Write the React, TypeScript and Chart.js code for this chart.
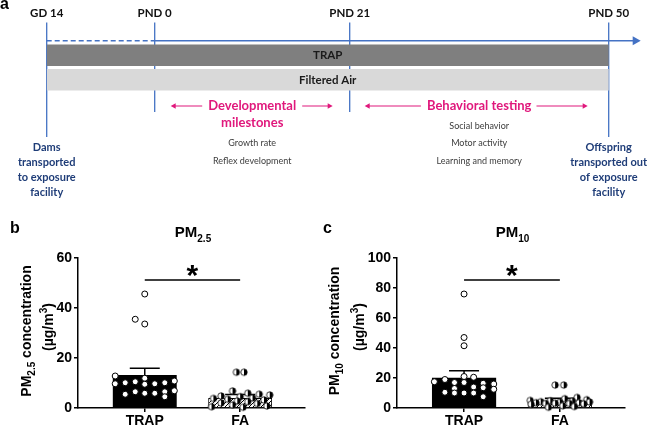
import React, { useEffect, useRef } from 'react';
import { Chart, registerables } from 'chart.js';

Chart.register(...registerables);

// ---------------- Panel a : study timeline (schematic, not to scale) ----------------
const stageLabels = ['GD 14', 'PND 0', 'PND 21', 'PND 50'];
const stageTimelinePos = [0, 108, 303, 562];
const timelineEnd = 594;
const exposureGroups = ['TRAP', 'Filtered Air'];
const devTitle = ['Developmental', 'milestones'];
const devTests = ['Growth rate', 'Reflex development'];
const behTitle = 'Behavioral testing';
const behTests = ['Social behavior', 'Motor activity', 'Learning and memory'];
const startNote = ['Dams', 'transported', 'to exposure', 'facility'];
const endNote = ['Offspring', 'transported out', 'of exposure', 'facility'];

// ---------------- Panels b, c : PM concentrations ----------------
const groups = ['TRAP', 'FA'];

const pm25Means = [13.2, 4.0];
const pm25Sem = [2.7, 1.4];
const pm25Trap = [45.6, 35.5, 33.6, 12.8, 11.9, 10.8, 10.5, 10.1, 10.1, 9.7, 9.7, 9.5, 6.9, 6.5, 6.5, 5.9, 5.9, 5.5, 4.5];
const pm25TrapJitter = [0, -0.1, 0, -0.31, 0, 0.31, -0.1, -0.205, 0.21, -0.31, 0.105, 0, 0.31, -0.1, 0.21, 0, 0.105, -0.205, 0.21];
const pm25Fa = [14.3, 14.3, 6.8, 5.9, 5.5, 5.2, 4.8, 4.5, 4.0, 3.8, 3.5, 3.2, 2.8, 2.5, 2.0, 1.8, 1.2, 0.8, 0.5, 0.3];
const pm25FaJitter = [-0.04, 0.04, -0.08, 0.08, 0.2, 0.31, -0.2, 0, 0.13, -0.28, -0.13, 0.25, -0.03, 0.08, -0.2, 0.18, -0.08, 0.28, -0.3, 0.03];
const pm25Sig = 51.2;

const pm10Means = [20.2, 5.0];
const pm10Sem = [4.7, 1.5];
const pm10Trap = [76, 47, 41.5, 21, 20.5, 19, 17.5, 17, 17, 16.5, 16, 14, 13.5, 13, 12.5, 10.5, 10, 10, 10, 7.5];
const pm10TrapJitter = [0, 0, 0, 0, 0.1, -0.2, -0.31, -0.1, 0, 0.2, 0.31, 0.1, 0.2, -0.1, 0.31, -0.2, -0.1, 0, 0.1, 0.2];
const pm10Fa = [15.3, 15.3, 7, 6.2, 5.5, 5, 4.8, 4.5, 4.2, 4, 3.8, 3.5, 3.5, 3.2, 3, 3, 2.8, 2.5, 1.5, 1, 0.5];
const pm10FaJitter = [-0.05, 0.04, 0.18, 0.05, 0.28, -0.31, -0.1, 0.13, -0.2, 0.31, 0, -0.25, 0.2, -0.05, -0.15, 0.1, 0.25, -0.3, 0.03, 0.15, -0.12];
const pm10Sig = 85.3;

// ---------------- styles ----------------
const BLUE = '#4472c4';
const MAGENTA = '#e0187c';
const NAVY = '#1f3d78';
const GREYTXT = '#3c3c3c';
const LATO = 'Lato, "Open Sans", "Noto Sans", sans-serif';
const ARIAL = '"Liberation Sans", Arial, Helvetica, sans-serif';

type Seg = { t: string; s?: 'sub' | 'sup' };

function drawRich(ctx: CanvasRenderingContext2D, segs: Seg[], x: number, y: number, size: number) {
  const base = `bold ${size}px ${ARIAL}`;
  const small = `bold ${Math.round(size * 0.68)}px ${ARIAL}`;
  let total = 0;
  const widths = segs.map((sg) => {
    ctx.font = sg.s ? small : base;
    const w = ctx.measureText(sg.t).width;
    total += w;
    return w;
  });
  let cx = x - total / 2;
  ctx.textAlign = 'left';
  ctx.textBaseline = 'alphabetic';
  segs.forEach((sg, i) => {
    ctx.font = sg.s ? small : base;
    const dy = sg.s === 'sub' ? size * 0.3 : sg.s === 'sup' ? -size * 0.42 : 0;
    ctx.fillText(sg.t, cx, y + dy);
    cx += widths[i];
  });
}

function arrowHead(ctx: CanvasRenderingContext2D, x: number, y: number, dir: number, len: number, half: number) {
  ctx.beginPath();
  ctx.moveTo(x, y);
  ctx.lineTo(x - dir * len, y - half);
  ctx.lineTo(x - dir * len, y + half);
  ctx.closePath();
  ctx.fill();
}

function Timeline() {
  const ref = useRef<HTMLCanvasElement>(null);
  useEffect(() => {
    const canvas = ref.current!;
    const plugin = {
      id: 'timelineDecor',
      beforeDatasetsDraw(chart: any) {
        const { ctx, scales } = chart;
        const x = scales.x;
        const px = stageTimelinePos.map((p) => x.getPixelForValue(p));
        ctx.save();
        ctx.strokeStyle = BLUE;
        ctx.lineWidth = 1.3;
        px.forEach((p: number, i: number) => {
          const bottom = i === 0 || i === px.length - 1 ? 137 : 112;
          ctx.beginPath();
          ctx.moveTo(p, 22.5);
          ctx.lineTo(p, bottom);
          ctx.stroke();
        });
        const ay = 40.7;
        ctx.lineWidth = 1.6;
        ctx.setLineDash([5, 3]);
        ctx.beginPath();
        ctx.moveTo(px[0], ay);
        ctx.lineTo(px[1], ay);
        ctx.stroke();
        ctx.setLineDash([]);
        const tip = x.getPixelForValue(timelineEnd);
        ctx.beginPath();
        ctx.moveTo(px[1], ay);
        ctx.lineTo(tip - 6, ay);
        ctx.stroke();
        ctx.fillStyle = BLUE;
        arrowHead(ctx, tip, ay, 1, 8, 4.5);
        ctx.restore();
      },
      afterDatasetsDraw(chart: any) {
        const { ctx } = chart;
        const meta = chart.getDatasetMeta(0);
        ctx.save();
        ctx.font = `bold 11.5px ${LATO}`;
        ctx.fillStyle = '#1a1a1a';
        ctx.textAlign = 'center';
        ctx.textBaseline = 'middle';
        meta.data.forEach((bar: any, i: number) => {
          const p = bar.getProps(['x', 'base', 'y'], true);
          ctx.fillText(exposureGroups[i], (p.x + p.base) / 2, p.y + 0.5);
        });
        ctx.restore();
      },
      afterDraw(chart: any) {
        const { ctx, scales } = chart;
        const x = scales.x;
        const px = stageTimelinePos.map((p) => x.getPixelForValue(p));
        ctx.save();
        // panel letter
        ctx.fillStyle = '#000';
        ctx.font = `bold 16px ${ARIAL}`;
        ctx.textAlign = 'left';
        ctx.textBaseline = 'alphabetic';
        ctx.fillText('a', 0, 9);
        // stage labels
        ctx.font = `bold 11.5px ${LATO}`;
        ctx.textAlign = 'center';
        ctx.textBaseline = 'middle';
        ctx.fillStyle = '#111';
        stageLabels.forEach((l, i) => ctx.fillText(l, px[i], 13.5));

        // developmental milestones block
        const c1 = (px[1] + px[2]) / 2;
        ctx.fillStyle = MAGENTA;
        ctx.strokeStyle = MAGENTA;
        ctx.lineWidth = 1.2;
        ctx.font = `bold 13px ${LATO}`;
        const w1 = ctx.measureText(devTitle[0]).width;
        devTitle.forEach((l, i) => ctx.fillText(l, c1, 106 + i * 17.3));
        let lh = px[1] + 16, lt = c1 - w1 / 2 - 6, rt = c1 + w1 / 2 + 6, rh = px[2] - 17;
        ctx.beginPath();
        ctx.moveTo(lt, 106); ctx.lineTo(lh + 4, 106);
        ctx.moveTo(rt, 106); ctx.lineTo(rh - 4, 106);
        ctx.stroke();
        arrowHead(ctx, lh, 106, -1, 5, 2.8);
        arrowHead(ctx, rh, 106, 1, 5, 2.8);

        // behavioral testing block
        const c2 = (px[2] + px[3]) / 2;
        const w2 = ctx.measureText(behTitle).width;
        ctx.fillText(behTitle, c2, 106);
        lh = px[2] + 15; lt = c2 - w2 / 2 - 6; rt = c2 + w2 / 2 + 5; rh = px[3] - 21;
        ctx.beginPath();
        ctx.moveTo(lt, 106); ctx.lineTo(lh + 4, 106);
        ctx.moveTo(rt, 106); ctx.lineTo(rh - 4, 106);
        ctx.stroke();
        arrowHead(ctx, lh, 106, -1, 5, 2.8);
        arrowHead(ctx, rh, 106, 1, 5, 2.8);

        // test lists
        ctx.fillStyle = GREYTXT;
        ctx.font = `9px ${LATO}`;
        devTests.forEach((l, i) => ctx.fillText(l, c1, 143.3 + i * 17.4));
        behTests.forEach((l, i) => ctx.fillText(l, c2, 126 + i * 17.4));

        // transport notes
        ctx.fillStyle = NAVY;
        ctx.font = `bold 11px ${LATO}`;
        startNote.forEach((l, i) => ctx.fillText(l, px[0], 147.7 + i * 14.9));
        endNote.forEach((l, i) => ctx.fillText(l, px[3], 147.7 + i * 14.9));
        ctx.restore();
      },
    };

    const chart = new Chart(canvas, {
      type: 'bar',
      data: {
        labels: exposureGroups,
        datasets: [
          {
            data: exposureGroups.map(() => [stageTimelinePos[0], stageTimelinePos[stageTimelinePos.length - 1]]) as any,
            backgroundColor: ['#7f7f7f', '#d9d9d9'],
            borderWidth: 0,
            categoryPercentage: 1,
            barPercentage: 0.873,
          },
        ],
      },
      options: {
        indexAxis: 'y',
        responsive: false,
        animation: false,
        devicePixelRatio: 1,
        layout: { padding: { left: 46.7, right: 650 - 46.7 - timelineEnd, top: 43, bottom: 108 } },
        plugins: { legend: { display: false }, tooltip: { enabled: false } },
        scales: {
          x: { type: 'linear', min: 0, max: timelineEnd, display: false },
          y: { type: 'category', display: false },
        },
      },
      plugins: [plugin],
    });
    return () => chart.destroy();
  }, []);
  return (
    <canvas
      ref={ref}
      width={650}
      height={200}
      style={{ position: 'absolute', left: 0, top: 0, width: 650, height: 200 }}
    />
  );
}

type PanelProps = {
  left: number;
  width: number;
  axisLeft: number;
  letter: string;
  letterX: number;
  sub: string;
  yMax: number;
  yStep: number;
  means: number[];
  sem: number[];
  trap: number[];
  trapJit: number[];
  fa: number[];
  faJit: number[];
  sig: number;
  yTitleX1: number;
  yTitleX2: number;
};

function makeHalfDot(r: number) {
  const c = document.createElement('canvas');
  const s = Math.ceil(r * 2 + 3);
  c.width = s;
  c.height = s;
  const g = c.getContext('2d')!;
  const cx = s / 2;
  g.fillStyle = '#fff';
  g.beginPath();
  g.arc(cx, cx, r, 0, Math.PI * 2);
  g.fill();
  g.fillStyle = '#000';
  g.beginPath();
  g.arc(cx, cx, r, -Math.PI / 2, Math.PI / 2);
  g.closePath();
  g.fill();
  g.strokeStyle = '#000';
  g.lineWidth = 0.8;
  g.beginPath();
  g.arc(cx, cx, r, 0, Math.PI * 2);
  g.stroke();
  return c;
}

function makeHatch(ctx: CanvasRenderingContext2D) {
  const c = document.createElement('canvas');
  c.width = 4;
  c.height = 4;
  const g = c.getContext('2d')!;
  g.fillStyle = '#fff';
  g.fillRect(0, 0, 4, 4);
  g.strokeStyle = '#000';
  g.lineWidth = 1;
  g.beginPath();
  g.moveTo(-1, 5);
  g.lineTo(5, -1);
  g.stroke();
  return ctx.createPattern(c, 'repeat');
}

function PmPanel(p: PanelProps) {
  const ref = useRef<HTMLCanvasElement>(null);
  useEffect(() => {
    const canvas = ref.current!;
    const ctx0 = canvas.getContext('2d')!;
    const hatch = makeHatch(ctx0);
    const halfDot = makeHalfDot(3.2);

    const plugin = {
      id: 'pmDecor',
      afterDatasetDraw(chart: any, args: any) {
        if (args.index !== 0) return;
        const { ctx, scales } = chart;
        const { x, y } = scales;
        ctx.save();
        ctx.strokeStyle = '#000';
        ctx.lineWidth = 1.5;
        p.means.forEach((m, i) => {
          const cx = x.getPixelForValue(i);
          const y0 = y.getPixelForValue(m);
          const y1 = y.getPixelForValue(m + p.sem[i]);
          ctx.beginPath();
          ctx.moveTo(cx, y0);
          ctx.lineTo(cx, y1);
          ctx.moveTo(cx - 15, y1);
          ctx.lineTo(cx + 15, y1);
          ctx.stroke();
        });
        ctx.restore();
      },
      afterDraw(chart: any) {
        const { ctx, scales } = chart;
        const { x, y } = scales;
        ctx.save();
        ctx.fillStyle = '#000';
        ctx.strokeStyle = '#000';
        // significance bar
        const sy = y.getPixelForValue(p.sig);
        ctx.lineWidth = 1.5;
        ctx.beginPath();
        ctx.moveTo(x.getPixelForValue(0), sy);
        ctx.lineTo(x.getPixelForValue(1), sy);
        ctx.stroke();
        ctx.font = `bold 30px ${ARIAL}`;
        ctx.textAlign = 'center';
        ctx.textBaseline = 'alphabetic';
        const m = ctx.measureText('*');
        const starCenter = sy - 9;
        const baseline = starCenter + (m.actualBoundingBoxAscent - m.actualBoundingBoxDescent) / 2;
        ctx.fillText('*', x.getPixelForValue(0.5), baseline);
        // panel letter
        ctx.font = `bold 16px ${ARIAL}`;
        ctx.textAlign = 'left';
        ctx.fillText(p.letter, p.letterX, 33);
        // title
        const cxTitle = (chart.chartArea.left + chart.chartArea.right) / 2 + 1.5;
        drawRich(ctx, [{ t: 'PM' }, { t: p.sub, s: 'sub' }], cxTitle, 37, 15);
        // y-axis title (rotated)
        const yc = (chart.chartArea.top + chart.chartArea.bottom) / 2;
        ctx.save();
        ctx.translate(p.yTitleX1, yc - 2);
        ctx.rotate(-Math.PI / 2);
        drawRich(ctx, [{ t: 'PM' }, { t: p.sub, s: 'sub' }, { t: ' concentration' }], 0, 0, 14);
        ctx.restore();
        ctx.save();
        ctx.translate(p.yTitleX2, yc - 6);
        ctx.rotate(-Math.PI / 2);
        drawRich(ctx, [{ t: '(µg/m' }, { t: '3', s: 'sup' }, { t: ')' }], 0, 0, 14);
        ctx.restore();
        ctx.restore();
      },
    };

    const chart = new Chart(canvas, {
      type: 'bar',
      data: {
        datasets: [
          {
            type: 'bar',
            data: p.means.map((m, i) => ({ x: i, y: m })) as any,
            backgroundColor: ['#000', hatch as any],
            borderColor: '#000',
            borderWidth: [0, 1] as any,
            categoryPercentage: 1,
            barPercentage: 0.67,
            order: 2,
          } as any,
          {
            type: 'scatter',
            data: p.trap.map((v, i) => ({ x: 0 + p.trapJit[i], y: v })),
            pointStyle: 'circle',
            pointRadius: 3,
            pointBackgroundColor: '#fff',
            pointBorderColor: '#000',
            pointBorderWidth: 1,
            clip: false,
            order: 1,
          } as any,
          {
            type: 'scatter',
            data: p.fa.map((v, i) => ({ x: 1 + p.faJit[i], y: v })),
            pointStyle: halfDot,
            pointRadius: 3,
            clip: false,
            order: 1,
          } as any,
        ],
      },
      options: {
        responsive: false,
        animation: false,
        devicePixelRatio: 1,
        layout: { padding: { top: 58, right: p.width - 305, bottom: 0, left: 0 } },
        plugins: { legend: { display: false }, tooltip: { enabled: false } },
        scales: {
          x: {
            type: 'linear',
            min: -0.7,
            max: 1.68,
            offset: false,
            afterBuildTicks: (scale: any) => {
              scale.ticks = groups.map((_, i) => ({ value: i }));
            },
            afterFit: (scale: any) => {
              scale.height = 19;
            },
            ticks: {
              callback: (v: any) => groups[v as number],
              font: { family: ARIAL, size: 14, weight: 'bold' },
              color: '#000',
              padding: 1,
              maxRotation: 0,
              autoSkip: false,
            },
            grid: { drawOnChartArea: false, drawTicks: true, tickLength: 4, color: '#000', lineWidth: 1.5, offset: false },
            border: { color: '#000', width: 1.5 },
          },
          y: {
            min: 0,
            max: p.yMax,
            afterFit: (scale: any) => {
              scale.width = p.axisLeft;
            },
            ticks: {
              stepSize: p.yStep,
              font: { family: ARIAL, size: 14, weight: 'bold' },
              color: '#000',
              padding: 2,
            },
            grid: { drawOnChartArea: false, drawTicks: true, tickLength: 4, color: '#000', lineWidth: 1.5 },
            border: { color: '#000', width: 1.5 },
          },
        },
      },
      plugins: [plugin],
    });
    return () => chart.destroy();
  }, []);
  return (
    <canvas
      ref={ref}
      width={p.width}
      height={227}
      style={{ position: 'absolute', left: p.left, top: 200, width: p.width, height: 227 }}
    />
  );
}

export default function App() {
  return (
    <div style={{ position: 'fixed', left: 0, top: 0, width: 650, height: 427, background: '#fff', overflow: 'hidden' }}>
      <Timeline />
      <PmPanel
        left={0}
        width={320}
        axisLeft={78}
        letter="b"
        letterX={10}
        sub="2.5"
        yMax={60}
        yStep={20}
        means={pm25Means}
        sem={pm25Sem}
        trap={pm25Trap}
        trapJit={pm25TrapJitter}
        fa={pm25Fa}
        faJit={pm25FaJitter}
        sig={pm25Sig}
        yTitleX1={31}
        yTitleX2={53}
      />
      <PmPanel
        left={320}
        width={330}
        axisLeft={77}
        letter="c"
        letterX={3}
        sub="10"
        yMax={100}
        yStep={20}
        means={pm10Means}
        sem={pm10Sem}
        trap={pm10Trap}
        trapJit={pm10TrapJitter}
        fa={pm10Fa}
        faJit={pm10FaJitter}
        sig={pm10Sig}
        yTitleX1={19}
        yTitleX2={44}
      />
    </div>
  );
}
